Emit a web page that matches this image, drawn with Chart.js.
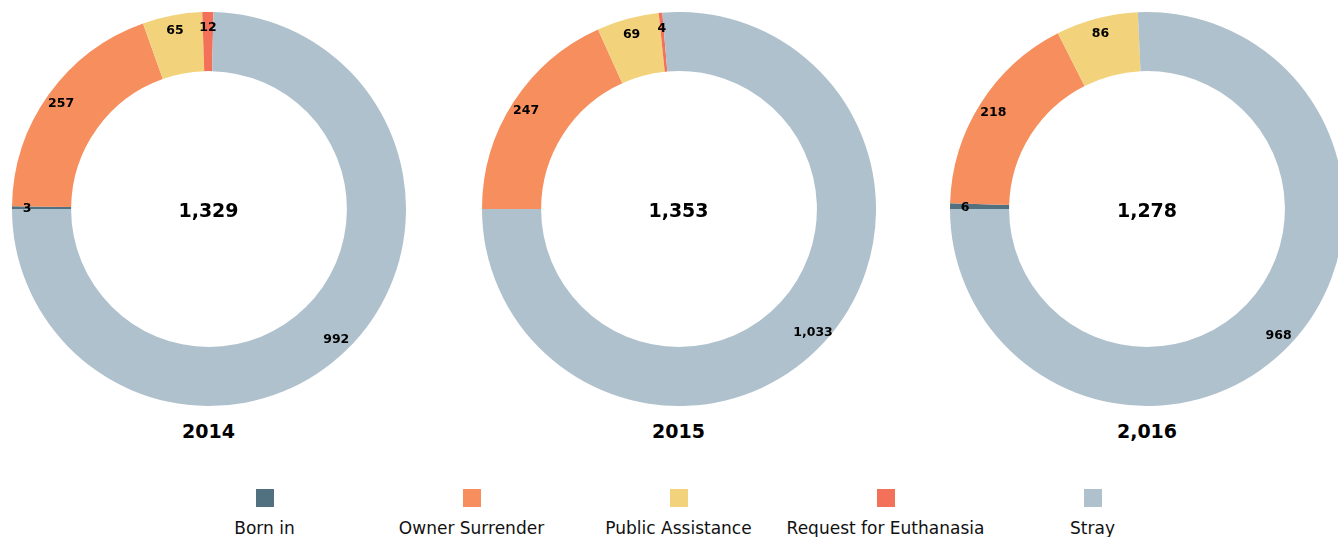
<!DOCTYPE html>
<html>
<head>
<meta charset="utf-8">
<script src="https://cdn.jsdelivr.net/npm/chart.js@4/dist/chart.umd.min.js"></script>
<style>
  html, body { margin: 0; padding: 0; background: #fff; width: 1338px; height: 537px; overflow: hidden; position: relative; font-family: "DejaVu Sans", Verdana, sans-serif; }
  .chartbox { position: absolute; top: 12px; width: 394px; height: 394px; }
  .total { position: absolute; top: 198px; width: 394px; text-align: center; font-weight: bold; font-size: 19px; line-height: 24px; color: #000; }
  .year { position: absolute; top: 419px; width: 394px; text-align: center; font-weight: bold; font-size: 19px; line-height: 24px; color: #000; }
  .legend { position: absolute; top: 489px; left: 161px; display: flex; }
  .item { width: 207px; display: flex; flex-direction: column; align-items: center; }
  .swatch { width: 18px; height: 18px; }
  .lbl { margin-top: 11px; font-size: 17px; line-height: 20px; color: #111; white-space: nowrap; }
</style>
</head>
<body>
<div id="root"></div>
<div class="legend" id="legend"></div>
<script>
const categories = ['Born in', 'Owner Surrender', 'Public Assistance', 'Request for Euthanasia', 'Stray'];
const colors = ['#517180', '#F68E5E', '#F3D27C', '#F37059', '#AFC1CD'];
const values2014 = [3, 257, 65, 12, 992];
const values2015 = [0, 247, 69, 4, 1033];
const values2016 = [6, 218, 86, 0, 968];
const yearLabels = ['2014', '2015', '2,016'];
const chartLefts = [11.5, 481.5, 950];

const seriesList = [values2014, values2015, values2016];
const fmt = v => v.toLocaleString('en-US');

const labelPlugin = {
  id: 'arcLabels',
  afterDatasetsDraw(chart) {
    const ctx = chart.ctx;
    const meta = chart.getDatasetMeta(0);
    const data = chart.data.datasets[0].data;
    ctx.save();
    ctx.font = 'bold 12.5px "DejaVu Sans", Verdana, sans-serif';
    ctx.fillStyle = '#000';
    ctx.textAlign = 'center';
    ctx.textBaseline = 'middle';
    meta.data.forEach((arc, i) => {
      if (!data[i]) return;
      const p = arc.getProps(['x', 'y', 'startAngle', 'endAngle', 'outerRadius'], true);
      const mid = (p.startAngle + p.endAngle) / 2;
      const r = p.outerRadius - 15;
      ctx.fillText(fmt(data[i]), p.x + Math.cos(mid) * r, p.y + 1 + Math.sin(mid) * r);
    });
    ctx.restore();
  }
};

const root = document.getElementById('root');
seriesList.forEach((vals, k) => {
  const box = document.createElement('div');
  box.className = 'chartbox';
  box.style.left = chartLefts[k] + 'px';
  const cv = document.createElement('canvas');
  cv.width = 394; cv.height = 394;
  box.appendChild(cv);
  root.appendChild(box);

  const total = document.createElement('div');
  total.className = 'total';
  total.style.left = chartLefts[k] + 'px';
  total.textContent = fmt(vals.reduce((a, b) => a + b, 0));
  root.appendChild(total);

  const yr = document.createElement('div');
  yr.className = 'year';
  yr.style.left = chartLefts[k] + 'px';
  yr.textContent = yearLabels[k];
  root.appendChild(yr);

  new Chart(cv, {
    type: 'doughnut',
    data: {
      labels: categories,
      datasets: [{ data: vals, backgroundColor: colors, borderWidth: 0 }]
    },
    options: {
      responsive: false,
      animation: false,
      rotation: -90,
      cutout: '70%',
      layout: { padding: 0 },
      plugins: { legend: { display: false }, tooltip: { enabled: false } }
    },
    plugins: [labelPlugin]
  });
});

const legend = document.getElementById('legend');
categories.forEach((c, i) => {
  const it = document.createElement('div');
  it.className = 'item';
  const sw = document.createElement('div');
  sw.className = 'swatch';
  sw.style.background = colors[i];
  const lb = document.createElement('div');
  lb.className = 'lbl';
  lb.textContent = c;
  it.appendChild(sw); it.appendChild(lb);
  legend.appendChild(it);
});
</script>
</body>
</html>
